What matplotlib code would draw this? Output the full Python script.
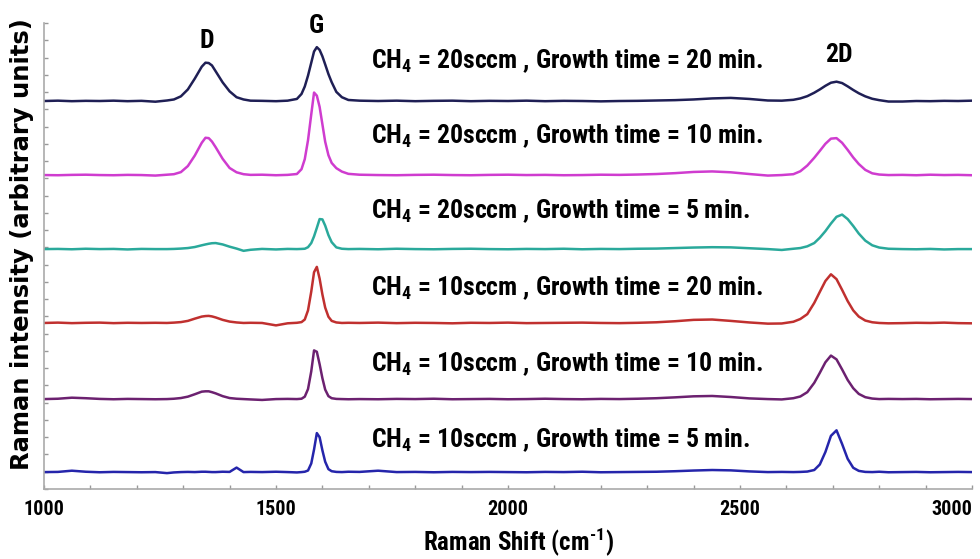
import numpy as np
from matplotlib import pyplot as plt
from matplotlib import font_manager

#---- Pick fonts (a narrow bold face for the horizontal text)

names  = {f.name for f in font_manager.fontManager.ttflist}
narrow = 'Liberation Sans'
for cand in ['Roboto Condensed', 'Liberation Sans Narrow', 'PT Sans Narrow']:
    if cand in names:
        narrow = cand
        break

plt.rcParams['font.family']      = [narrow, 'DejaVu Sans']
plt.rcParams['font.weight']      = 'bold'
plt.rcParams['mathtext.fontset'] = 'custom'
plt.rcParams['mathtext.rm']      = narrow + ':bold'
plt.rcParams['mathtext.bf']      = narrow + ':bold'
plt.rcParams['mathtext.default'] = 'bf'

#---- Data (intensity above each baseline)

shift = [1000, 1030, 1060, 1090, 1120, 1150, 1180, 1210, 1240,
         1265, 1280, 1295, 1310, 1325, 1340, 1348, 1355, 1362, 1370, 1385, 1400, 1415, 1430, 1445,
         1470, 1500, 1525, 1545,
         1555, 1562, 1569, 1576, 1582, 1588, 1594, 1600, 1606, 1613, 1620, 1630, 1642, 1656,
         1680, 1720, 1760, 1800, 1840, 1880, 1920, 1960, 2000, 2040, 2080, 2120,
         2160, 2200, 2240, 2280, 2320, 2360, 2400, 2440, 2480, 2520, 2560, 2590,
         2615, 2630, 2645, 2660, 2672, 2684, 2696, 2708, 2720, 2732, 2744, 2756, 2770, 2785, 2800, 2820,
         2850, 2880, 2910, 2940, 2970, 3000]

ch20_t20 = [0.00, 0.02, -0.01, 0.01, 0.00, 0.02, -0.01, 0.01, -0.04,
            0.03, 0.09, 0.27, 0.67, 1.30, 1.99, 2.22, 2.20, 2.06, 1.72, 1.08, 0.56, 0.22, 0.09, 0.02,
            0.01, -0.01, 0.02, 0.12,
            0.41, 0.84, 1.47, 2.22, 2.87, 3.12, 2.96, 2.59, 2.12, 1.56, 1.09, 0.53, 0.22, 0.06,
            0.02, 0.00, 0.02, -0.01, 0.01, 0.02, -0.01, 0.01, 0.00, 0.02, -0.01, 0.01,
            0.00, -0.02, 0.00, 0.01, 0.03, 0.05, 0.09, 0.15, 0.18, 0.12, 0.03, 0.02,
            0.07, 0.15, 0.28, 0.48, 0.67, 0.88, 1.06, 1.12, 1.04, 0.85, 0.64, 0.45, 0.27, 0.13, 0.05, -0.03,
            -0.03, 0.00, -0.01, 0.01, 0.00, 0.02]

ch20_t10 = [0.00, -0.01, 0.01, 0.02, 0.00, -0.01, 0.01, 0.00, -0.03,
            0.02, 0.05, 0.17, 0.52, 1.13, 1.87, 2.16, 2.14, 1.94, 1.61, 0.94, 0.41, 0.16, 0.05, 0.01,
            0.02, -0.01, 0.01, 0.06,
            0.34, 0.92, 2.02, 3.52, 4.78, 4.60, 3.95, 2.94, 1.93, 1.15, 0.70, 0.40, 0.20, 0.07,
            0.02, 0.00, -0.01, 0.01, 0.02, 0.00, -0.01, 0.01, 0.02, 0.00, 0.01, -0.01,
            0.00, 0.02, 0.01, 0.03, 0.06, 0.11, 0.18, 0.21, 0.16, 0.06, -0.03, 0.00,
            0.05, 0.22, 0.55, 1.00, 1.40, 1.81, 2.11, 2.14, 1.87, 1.46, 1.02, 0.64, 0.30, 0.10, 0.03, 0.00,
            0.01, -0.01, 0.02, 0.00, 0.01, -0.01]

ch20_t5 = [0.00, 0.01, -0.01, 0.02, 0.00, 0.01, -0.02, 0.01, 0.00,
           0.00, 0.01, 0.03, 0.06, 0.12, 0.22, 0.27, 0.31, 0.34, 0.35, 0.27, 0.14, 0.03, -0.10, -0.04,
           0.01, -0.02, 0.01, 0.00,
           0.01, 0.02, 0.11, 0.35, 0.74, 1.23, 1.74, 1.72, 1.36, 0.81, 0.40, 0.10, 0.02, 0.00,
           0.01, -0.01, 0.02, 0.00, -0.01, 0.01, 0.02, 0.00, -0.01, 0.01, 0.00, 0.02,
           -0.01, 0.01, 0.00, 0.02, 0.03, 0.06, 0.09, 0.11, 0.10, 0.05, 0.00, -0.05,
           0.02, 0.06, 0.16, 0.35, 0.66, 1.04, 1.48, 1.87, 2.00, 1.74, 1.34, 0.90, 0.49, 0.22, 0.09, 0.02,
           0.00, -0.01, 0.01, -0.02, 0.00, 0.00]

ch10_t20 = [0.00, 0.02, -0.01, 0.01, 0.02, -0.01, 0.01, 0.00, 0.01,
            0.00, 0.02, 0.05, 0.12, 0.25, 0.37, 0.40, 0.41, 0.38, 0.32, 0.18, 0.08, 0.03, 0.00, 0.01,
            0.00, -0.14, -0.02, 0.01,
            0.05, 0.20, 0.73, 1.82, 2.94, 3.25, 2.57, 1.65, 0.89, 0.36, 0.12, 0.03, 0.00, 0.01,
            0.00, 0.02, -0.01, 0.01, 0.00, -0.02, 0.01, 0.00, 0.02, -0.01, 0.00, 0.01,
            0.02, 0.00, -0.01, 0.01, 0.04, 0.10, 0.18, 0.20, 0.12, 0.03, -0.04, -0.03,
            0.07, 0.23, 0.51, 1.16, 1.80, 2.43, 2.82, 2.54, 1.92, 1.27, 0.73, 0.37, 0.14, 0.04, 0.00, -0.02,
            -0.01, 0.01, 0.00, 0.02, -0.01, -0.02]

ch10_t10 = [0.00, 0.02, 0.08, 0.05, 0.01, -0.01, 0.01, 0.00, -0.01,
            0.00, 0.02, 0.06, 0.14, 0.28, 0.43, 0.45, 0.45, 0.40, 0.33, 0.17, 0.06, 0.02, 0.00, -0.02,
            -0.05, 0.00, 0.01, 0.00,
            0.02, 0.14, 0.58, 1.61, 2.82, 2.74, 2.02, 1.21, 0.55, 0.17, 0.05, 0.01, 0.00, -0.01,
            0.00, -0.01, 0.01, 0.00, 0.02, -0.01, 0.00, 0.01, -0.01, 0.00, 0.02, 0.00,
            -0.01, 0.01, 0.00, 0.02, 0.05, 0.10, 0.16, 0.18, 0.12, 0.04, 0.00, -0.02,
            0.05, 0.15, 0.40, 0.94, 1.52, 2.13, 2.52, 2.30, 1.72, 1.11, 0.63, 0.30, 0.11, 0.03, 0.00, 0.01,
            0.00, 0.01, -0.01, 0.00, 0.01, 0.00]

ch10_t5 = [0.00, 0.01, 0.08, 0.02, -0.01, 0.01, 0.00, -0.01, 0.00,
           -0.06, -0.02, 0.00, 0.01, 0.00, 0.02, 0.02, 0.01, 0.00, 0.00, 0.02, 0.01, 0.26, 0.00, 0.01,
           0.00, 0.02, 0.00, -0.02,
           0.00, 0.02, 0.09, 0.50, 1.31, 2.26, 2.02, 1.26, 0.60, 0.17, 0.05, 0.01, 0.00, 0.02,
           0.01, 0.08, 0.00, 0.01, -0.01, 0.01, 0.00, 0.01, 0.00, -0.01, 0.01, 0.00,
           0.02, -0.01, 0.00, 0.01, 0.02, 0.05, 0.09, 0.12, 0.10, 0.04, 0.00, 0.01,
           0.00, 0.01, 0.03, 0.12, 0.44, 1.16, 2.10, 2.42, 1.63, 0.77, 0.25, 0.07, 0.01, 0.00, 0.02, -0.01,
           0.00, 0.01, -0.01, 0.00, 0.01, 0.00]

spectra  = [ch20_t20, ch20_t10, ch20_t5, ch10_t20, ch10_t10, ch10_t5]
baseline = [22.48, 18.19, 13.90, 9.62, 5.21, 0.98]
labels   = [r'CH$_4$ = 20sccm , Growth time = 20 min.',
            r'CH$_4$ = 20sccm , Growth time = 10 min.',
            r'CH$_4$ = 20sccm , Growth time = 5 min.',
            r'CH$_4$ = 10sccm , Growth time = 20 min.',
            r'CH$_4$ = 10sccm , Growth time = 10 min.',
            r'CH$_4$ = 10sccm , Growth time = 5 min.']
label_y  = [24.39, 20.05, 15.70, 11.24, 6.84, 2.43]

peak_names = ['D', 'G', '2D']
peak_x     = [1351, 1586, 2713]
peak_y     = [25.55, 26.42, 24.74]

colors = ['#1f1f55', '#cf3ccf', '#2aa99b', '#c0302f', '#6c2170', '#2525ab']



#---- Plot the stacked spectra

def plot_spectra(ax):

    for y, off, c in zip(spectra, baseline, colors):
        ax.plot(shift, np.array(y) + off, '-', color=c, lw=1.8)

    for txt, ty in zip(labels, label_y):
        ax.text(1705, ty, txt, fontsize=18.5, va='baseline', ha='left')

    for name, px, py in zip(peak_names, peak_x, peak_y):
        ax.text(px, py, name, fontsize=18.5, va='baseline', ha='center')

    ax.set_xlim(1000, 3000)
    ax.set_ylim(0, 27)

    ax.set_xticks([1000, 1500, 2000, 2500, 3000])
    ax.set_xticks(np.arange(1000, 3001, 100), minor=True)
    ax.set_yticks(np.arange(0, 28, 1))
    ax.set_yticklabels([])

    ax.tick_params(which='both', direction='in', length=3, width=1,
                   color='#999999', labelsize=14.5, pad=8)
    ax.xaxis.get_major_ticks()[-1].label1.set_horizontalalignment('right')

    for s in ['top', 'right']:
        ax.spines[s].set_visible(False)
    for s in ['left', 'bottom']:
        ax.spines[s].set_color('#aaaaaa')
        ax.spines[s].set_linewidth(1.2)

    return ax



#---- Script

if __name__ == '__main__':

    fig = plt.figure(figsize=(9.8, 5.59), dpi=100)
    ax  = fig.add_axes([44/980, 1 - 489/559, 928/980, 466/559])

    ax = plot_spectra(ax)

    fig.text(518/980, 1 - 550/559, 'Raman Shift (cm$^{\u20101}$)',
             fontsize=18, ha='center', va='baseline')
    fig.text(22/980, 1 - 244/559, 'Raman intensity (arbitrary units)',
             family='DejaVu Sans', fontsize=17.5, rotation=90,
             ha='center', va='center')

    plt.savefig('out.png', dpi=100)
